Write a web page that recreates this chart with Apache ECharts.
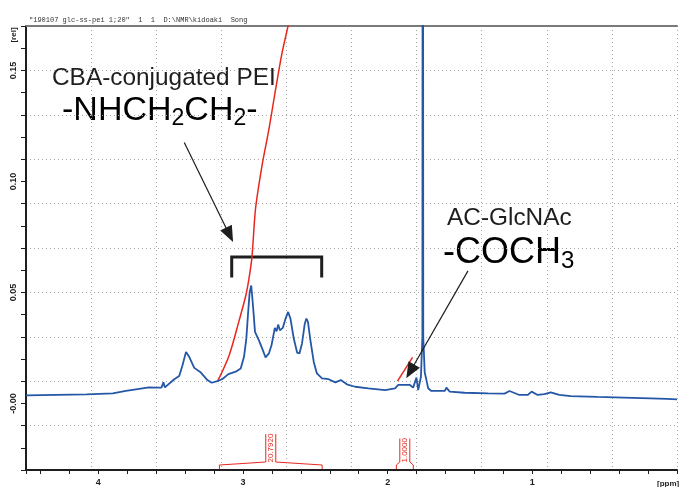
<!DOCTYPE html>
<html>
<head>
<meta charset="utf-8">
<script src="https://cdn.jsdelivr.net/npm/echarts@6/dist/echarts.min.js"></script>
<style>
  html, body { margin: 0; padding: 0; background: #fff; }
  #chart { width: 680px; height: 487px; }
</style>
</head>
<body>
<div id="chart"></div>
<script>
// 1H NMR spectrum (ppm, relative intensity)
const spectrumPpm = [
  4.50, 4.08, 3.90, 3.81, 3.74, 3.65, 3.60, 3.564, 3.55, 3.54,
  3.475, 3.441, 3.418, 3.394, 3.372, 3.337, 3.291, 3.246, 3.216, 3.177,
  3.142, 3.101, 3.050, 3.016, 2.993, 2.977, 2.966, 2.954, 2.943, 2.931,
  2.917, 2.890, 2.867, 2.844, 2.821, 2.803, 2.794, 2.780, 2.768, 2.757,
  2.745, 2.725, 2.706, 2.688, 2.672, 2.649, 2.626, 2.610, 2.592, 2.573,
  2.562, 2.551, 2.534, 2.511, 2.489, 2.454, 2.408, 2.362, 2.324, 2.282,
  2.225, 2.133, 2.018, 1.949, 1.927, 1.892, 1.846, 1.824, 1.801, 1.789,
  1.770, 1.760, 1.757, 1.754, 1.744, 1.732, 1.720, 1.698, 1.605, 1.594,
  1.571, 1.468, 1.307, 1.192, 1.158, 1.089, 1.032, 1.005, 0.963, 0.917,
  0.872, 0.814, 0.734, 0.550, 0.367, 0.184, 0.069, 0.000
];
const spectrumRel = [
  0.0036, 0.0041, 0.0045, 0.0056, 0.0063, 0.0072, 0.0071, 0.0071, 0.0095, 0.0072,
  0.0109, 0.0123, 0.0172, 0.0232, 0.0210, 0.0160, 0.0139, 0.0105, 0.0093, 0.0100,
  0.0110, 0.0132, 0.0143, 0.0157, 0.0210, 0.0292, 0.0396, 0.0501, 0.0531, 0.0441,
  0.0322, 0.0284, 0.0247, 0.0207, 0.0225, 0.0262, 0.0292, 0.0340, 0.0325, 0.0355,
  0.0329, 0.0340, 0.0382, 0.0412, 0.0382, 0.0292, 0.0229, 0.0225, 0.0270, 0.0359,
  0.0382, 0.0367, 0.0284, 0.0187, 0.0135, 0.0113, 0.0109, 0.0095, 0.0105, 0.0086,
  0.0075, 0.0068, 0.0060, 0.0068, 0.0083, 0.0083, 0.0083, 0.0071, 0.0116, 0.0060,
  0.0120, 0.0300, 0.4500, 0.0300, 0.0140, 0.0105, 0.0068, 0.0056, 0.0056, 0.0071,
  0.0053, 0.0048, 0.0045, 0.0044, 0.0056, 0.0038, 0.0038, 0.0053, 0.0038, 0.0042,
  0.0050, 0.0038, 0.0033, 0.0029, 0.0026, 0.0023, 0.0020, 0.0018
];

// integral curves (red)
const integral1Ppm = [3.176, 3.096, 3.027, 2.981, 2.959, 2.938, 2.913, 2.867, 2.821, 2.775, 2.730, 2.679, 2.642];
const integral1Rel = [0.0099, 0.0216, 0.0373, 0.0485, 0.0561, 0.0660, 0.0879, 0.1077, 0.1234, 0.1413, 0.1579, 0.1727, 0.1839];
const integral2Ppm = [1.932, 1.828];
const integral2Rel = [0.0100, 0.0207];

// integration regions and their values
const integralFrom = [3.163, 1.940];
const integralTo = [2.453, 1.823];
const integralValues = ['20.7920', '1.0000'];

// annotation anchors (ppm, rel)
const bracketPpm = [3.078, 3.078, 2.456, 2.456];
const bracketRel = [0.0574, 0.066, 0.066, 0.0574];
const arrowFrom = [[3.406, 0.1175], [1.445, 0.0597]];
const arrowTo = [[3.093, 0.0759], [1.844, 0.0144]];

const headerText = '"190107 glc-ss-pei 1;20"  1  1  D:\\NMR\\kidoaki  Song';

const X_MIN = 0, X_MAX = 4.5;
const Y_MIN = -0.03, Y_MAX = 0.17;
const BLUE = '#2557a7';
const RED = '#e8281e';
const INK = '#1e1e1e';
const SANS = '"Liberation Sans", Arial, sans-serif';

const zip = (xs, ys) => xs.map((x, i) => [x, ys[i]]);

const measure = document.createElement('canvas').getContext('2d');
measure.font = '8px ' + SANS;

function renderIntegral(params, api) {
  const xa = api.coord([api.value(0), Y_MIN])[0];
  const xb = api.coord([api.value(1), Y_MIN])[0];
  const yb = api.coord([api.value(0), Y_MIN])[1] - 1;
  const label = integralValues[params.dataIndex];
  const len = measure.measureText(label).width;
  const left = Math.min(xa, xb);
  const right = Math.max(xa, xb);
  const xc = (left + right) / 2;
  const top = yb - 6 - len;
  const line = { stroke: RED, fill: null, lineWidth: 1 };
  return {
    type: 'group',
    children: [
      { type: 'polyline', shape: { points: [[left, yb], [left, yb - 4], [xc - 5, yb - 7], [xc - 5, top]] }, style: line },
      { type: 'polyline', shape: { points: [[right, yb], [right, yb - 4], [xc + 5, yb - 7], [xc + 5, top]] }, style: line },
      {
        type: 'text', x: xc, y: (top + yb - 7) / 2, rotation: Math.PI / 2,
        style: { text: label, fill: RED, font: '8px ' + SANS, align: 'center', verticalAlign: 'middle' }
      }
    ]
  };
}

const chart = echarts.init(document.getElementById('chart'));

const dotted = { color: '#a8a8a8', width: 1, type: [1, 3] };

chart.setOption({
  animation: false,
  backgroundColor: '#fff',
  grid: { left: 26, right: 0, top: 26, bottom: 15, containLabel: false },
  xAxis: [
    {
      type: 'value', position: 'bottom', inverse: true,
      min: X_MIN, max: X_MAX, interval: 0.2,
      axisLine: { onZero: false, lineStyle: { color: INK, width: 2 } },
      axisTick: { show: true, length: 4, lineStyle: { color: INK, width: 1 } },
      axisLabel: {
        margin: 8, color: INK, fontSize: 9, fontWeight: 'bold', fontFamily: SANS,
        hideOverlap: false,
        formatter: v => {
          const r = Math.round(v);
          return Math.abs(v - r) < 1e-6 && r > 0 ? String(r) : '';
        }
      },
      splitLine: { show: false }
    },
    {
      type: 'value', position: 'bottom', inverse: true,
      min: X_MIN, max: X_MAX, interval: 0.45,
      axisLine: { show: false, onZero: false }, axisTick: { show: false }, axisLabel: { show: false },
      splitLine: { show: true, lineStyle: dotted }
    },
    {
      type: 'value', position: 'top', inverse: true,
      min: X_MIN, max: X_MAX,
      axisLine: { show: true, onZero: false, lineStyle: { color: '#7a7a7a', width: 2 } },
      axisTick: { show: false }, axisLabel: { show: false }, splitLine: { show: false }
    }
  ],
  yAxis: [
    {
      type: 'value', position: 'left',
      min: Y_MIN, max: Y_MAX, interval: 0.01,
      axisLine: { show: true, onZero: false, lineStyle: { color: INK, width: 2 } },
      axisTick: { show: true, length: 5, lineStyle: { color: INK, width: 1 } },
      axisLabel: {
        rotate: 90, margin: 8, color: INK, fontSize: 9, fontWeight: 'bold', fontFamily: SANS,
        hideOverlap: false,
        formatter: v => {
          const c = Math.round(v * 100);
          if (c % 5 !== 0) return '';
          return c === 0 ? '-0.00' : (c / 100).toFixed(2);
        }
      },
      splitLine: { show: false }
    },
    {
      type: 'value', position: 'left',
      min: Y_MIN, max: Y_MAX, interval: 0.02,
      axisLine: { show: false, onZero: false }, axisTick: { show: false }, axisLabel: { show: false },
      splitLine: { show: true, lineStyle: dotted }
    }
  ],
  series: [
    {
      name: 'spectrum', type: 'line', xAxisIndex: 0, yAxisIndex: 0,
      data: zip(spectrumPpm, spectrumRel),
      showSymbol: false, silent: true, z: 4,
      lineStyle: { color: BLUE, width: 1.8 },
      markLine: {
        silent: true, animation: false,
        symbol: ['none', 'triangle'], symbolSize: [13, 16],
        label: { show: false },
        lineStyle: { color: INK, width: 1.2, type: 'solid' },
        data: arrowFrom.map((p, i) => [{ coord: p }, { coord: arrowTo[i] }])
      }
    },
    {
      name: 'integral 1', type: 'line', xAxisIndex: 0, yAxisIndex: 0,
      data: zip(integral1Ppm, integral1Rel), smooth: 0.3,
      showSymbol: false, silent: true, z: 3,
      lineStyle: { color: RED, width: 1.5 }
    },
    {
      name: 'integral 2', type: 'line', xAxisIndex: 0, yAxisIndex: 0,
      data: zip(integral2Ppm, integral2Rel),
      showSymbol: false, silent: true, z: 3,
      lineStyle: { color: RED, width: 1.5 }
    },
    {
      name: 'integral regions', type: 'custom', xAxisIndex: 0, yAxisIndex: 0,
      data: integralFrom.map((f, i) => [f, integralTo[i], Y_MIN]),
      encode: { x: [0, 1], y: 2 },
      renderItem: renderIntegral, silent: true, z: 5, clip: false
    },
    {
      name: 'bracket', type: 'line', xAxisIndex: 0, yAxisIndex: 0,
      data: zip(bracketPpm, bracketRel),
      showSymbol: false, silent: true, z: 2,
      lineStyle: { color: INK, width: 3, join: 'miter', cap: 'square' }
    }
  ],
  graphic: [
    { type: 'text', x: 29, y: 20, style: { text: headerText, font: '7px "Liberation Mono", monospace', fill: '#333', verticalAlign: 'middle' } },
    { type: 'text', x: 14, y: 35, rotation: Math.PI / 2, style: { text: '[rel]', font: 'bold 8px ' + SANS, fill: INK, align: 'center', verticalAlign: 'middle' } },
    { type: 'text', x: 657, y: 484, style: { text: '[ppm]', font: 'bold 8px ' + SANS, fill: INK, verticalAlign: 'middle' } },
    { type: 'text', x: 52, y: 78, style: { text: 'CBA-conjugated PEI', font: '24.4px ' + SANS, fill: INK, verticalAlign: 'middle' } },
    {
      type: 'text', x: 62, y: 111,
      style: {
        text: '{m|-NHCH}{s|2}{m|CH}{s|2}{m|-}', verticalAlign: 'middle',
        rich: {
          m: { fontSize: 34, fontFamily: SANS, color: INK, lineHeight: 44 },
          s: { fontSize: 23, fontFamily: SANS, color: INK, lineHeight: 44, padding: [16, 0, 0, 0] }
        }
      }
    },
    { type: 'text', x: 447, y: 218, style: { text: 'AC-GlcNAc', font: '24.4px ' + SANS, fill: INK, verticalAlign: 'middle' } },
    {
      type: 'text', x: 443, y: 253,
      style: {
        text: '{m|-COCH}{s|3}', verticalAlign: 'middle',
        rich: {
          m: { fontSize: 36, fontFamily: SANS, color: INK, lineHeight: 44 },
          s: { fontSize: 24, fontFamily: SANS, color: INK, lineHeight: 44, padding: [16, 0, 0, 0] }
        }
      }
    }
  ]
});
</script>
</body>
</html>
